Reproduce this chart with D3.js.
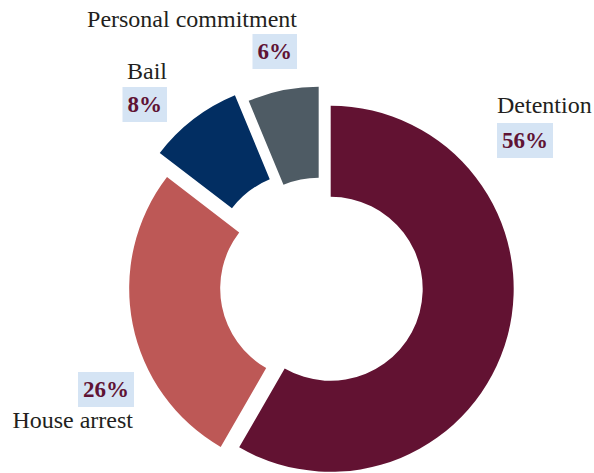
<!DOCTYPE html>
<html>
<head>
<meta charset="utf-8">
<script src="https://cdn.jsdelivr.net/npm/d3@7"></script>
<style>
  html, body { margin: 0; padding: 0; background: #ffffff; }
  svg { display: block; }
  .lbl { font-family: "Liberation Serif", "Times New Roman", "DejaVu Serif", serif; }
</style>
</head>
<body>
<svg id="chart" width="594" height="473"></svg>
<script>
// Share of pre-trial measures (percent)
const categories = ["Detention", "House arrest", "Bail", "Personal commitment"];
const shares = [56, 26, 8, 6];

// Styling per category: fill colour and how far the slice is pulled out
const sliceColor = {
  "Detention": "#621232",
  "House arrest": "#bd5856",
  "Bail": "#022e62",
  "Personal commitment": "#4e5b64"
};
const explode = {
  "Detention": 9,
  "House arrest": 10,
  "Bail": 28,
  "Personal commitment": 17
};
// Label placement: anchor, x, baseline of the name and of the percentage
const labelLayout = {
  "Detention":           { anchor: "start", nameX: 497, nameY: 113, pctX: 502, pctY: 148 },
  "House arrest":        { anchor: "end",   nameX: 133, nameY: 428, pctX: 129, pctY: 397 },
  "Bail":                { anchor: "end",   nameX: 167, nameY: 79,  pctX: 162, pctY: 112 },
  "Personal commitment": { anchor: "end",   nameX: 297, nameY: 27,  pctX: 292, pctY: 59 }
};

const cx = 322, cy = 286.5;
const innerR = 92, outerR = 183;

const svg = d3.select("#chart");
const g = svg.append("g").attr("transform", `translate(${cx},${cy})`);

const data = categories.map((c, i) => ({ name: c, value: shares[i] }));

const pie = d3.pie().sort(null).value(d => d.value).startAngle(0).endAngle(2 * Math.PI);
const arc = d3.arc().innerRadius(innerR).outerRadius(outerR);

const arcs = pie(data);

g.selectAll("path.slice")
  .data(arcs)
  .join("path")
  .attr("class", "slice")
  .attr("fill", d => sliceColor[d.data.name])
  .attr("transform", d => {
    const mid = (d.startAngle + d.endAngle) / 2;
    const off = explode[d.data.name];
    return `translate(${off * Math.sin(mid)},${-off * Math.cos(mid)})`;
  })
  .attr("d", arc);

// Category names and percentage badges
const labels = svg.append("g");
arcs.forEach(d => {
  const L = labelLayout[d.data.name];
  labels.append("text")
    .attr("class", "lbl")
    .attr("x", L.nameX)
    .attr("y", L.nameY)
    .attr("text-anchor", L.anchor)
    .style("font-size", "24px")
    .attr("fill", "#231f20")
    .text(d.data.name);

  const pg = labels.append("g");
  const rect = pg.append("rect").attr("fill", "#d5e4f4");
  const t = pg.append("text")
    .attr("class", "lbl")
    .attr("x", L.pctX)
    .attr("y", L.pctY)
    .attr("text-anchor", L.anchor)
    .style("font-size", "23px")
    .style("font-weight", "bold")
    .attr("fill", "#5f1334")
    .text(d.data.value + "%");
  const w = t.node().getComputedTextLength();
  const x0 = L.anchor === "start" ? L.pctX : L.pctX - w;
  rect.attr("x", x0 - 5)
    .attr("y", L.pctY - 25)
    .attr("width", w + 10)
    .attr("height", 35);
});
</script>
</body>
</html>
